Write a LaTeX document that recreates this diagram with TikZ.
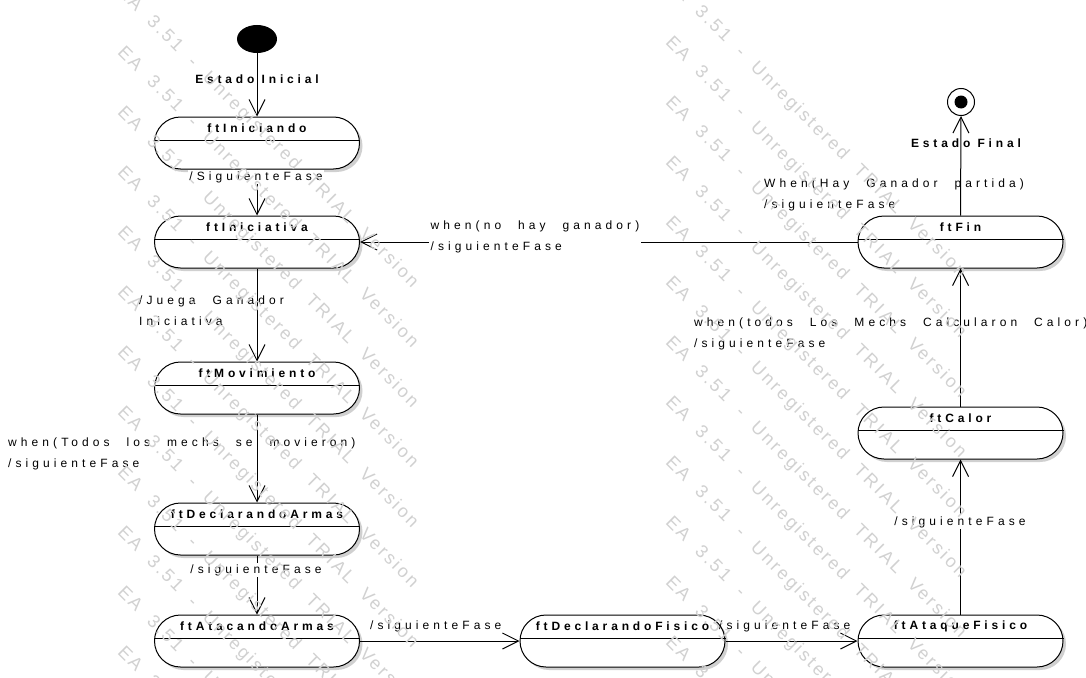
\documentclass[tikz,border=0pt]{standalone}
\usepackage{fontspec}
\setmainfont{Liberation Sans}[LetterSpace=34]
\newfontfamily\titlefont{Liberation Sans}[LetterSpace=32]
\newfontfamily\watermarkfont{Liberation Sans}[LetterSpace=14]
\usetikzlibrary{arrows.meta,shapes.geometric,shadows,calc}

\tikzset{
  phase/.style={draw, line width=1pt, fill=white, rounded corners=26pt,
    minimum width=205pt, minimum height=52pt, inner sep=0pt,
    drop shadow={shadow xshift=3pt, shadow yshift=-3pt, fill=black!30, opacity=.6}},
  phasetitle/.style={font=\titlefont\fontsize{12}{14}\selectfont\bfseries, inner sep=0pt},
  divider/.style={line width=1pt},
  conn/.style={line width=1pt, -{Straight Barb[length=16pt, width=16pt]}},
  lbl/.style={font={\fontsize{12}{21}\selectfont\spaceskip=17pt\relax}, inner sep=0pt, align=left},
  lblbg/.style={lbl, fill=white, inner sep=1.5pt},
  lblbold/.style={font=\titlefont\fontsize{12}{14}\selectfont\bfseries, inner sep=0pt},
  wm/.style={font={\watermarkfont\fontsize{18}{18}\selectfont\spaceskip=15pt\relax}, text=black!18,
    inner sep=0pt, anchor=west, rotate=-45},
}

% one phase of the turn: stadium box, title compartment and divider
\newcommand\phasebox[4]{%
  \node[phase] (#1) at (#2,#3) {};
  \draw[divider] ($(#1.west)+(0,-2.5)$) -- ($(#1.east)+(0,-2.5)$);
  \node[phasetitle] (#1-t) at ($(#1.center)+(0,-15)$) {#4};
}

\begin{document}
\begin{tikzpicture}[x=1pt, y=-1pt]
  \fill[white] (0,0) rectangle (1086,677);
  \useasboundingbox (0,0) rectangle (1086,677);

  % pseudo states
  \node[ellipse, fill=black, minimum width=40pt, minimum height=28pt, inner sep=0pt] (init) at (257,39) {};
  \node[circle, draw, line width=1pt, fill=white, minimum size=27pt, inner sep=0pt] (final) at (961,102) {};
  \node[circle, fill=black, minimum size=13pt, inner sep=0pt] (finaldot) at (final.center) {};

  % phases
  \phasebox{iniciando}{257}{143}{ftIniciando}
  \phasebox{iniciativa}{257}{242}{ftIniciativa}
  \phasebox{movimiento}{257}{388}{ftMovimiento}
  \phasebox{declarmas}{257}{529}{ftDeclarandoArmas}
  \phasebox{atacarmas}{257}{641}{ftAtacandoArmas}
  \phasebox{declfisico}{622.5}{641}{ftDeclarandoFisico}
  \phasebox{ataquefisico}{960.5}{641}{ftAtaqueFisico}
  \phasebox{calor}{960.5}{433}{ftCalor}
  \phasebox{fin}{960.5}{242}{ftFin}

  % transitions
  \draw[conn] (init.south) -- (iniciando.north);
  \draw[conn] (iniciando.south) -- (iniciativa.north);
  \draw[conn] (iniciativa.south) -- (movimiento.north);
  \draw[conn] (movimiento.south) -- (declarmas.north);
  \draw[conn] (declarmas.south) -- (atacarmas.north);
  \draw[conn] (atacarmas.east) -- (declfisico.west);
  \draw[conn] (declfisico.east) -- (ataquefisico.west);
  \draw[conn] (ataquefisico.north) -- (calor.south);
  \draw[conn] (calor.north) -- (fin.south);
  \draw[conn] (fin.west) -- (iniciativa.east);
  \draw[conn] (fin.north) -- (final.south);

  % transition labels
  \node[lblbold] (l-init) at (257,79) {Estado Inicial};
  \node[lblbg] (l-sig1) at (256,177) {/SiguienteFase};
  \node[lbl, anchor=west] (l-juega) at (139,310.5) {/Juega Ganador\\Iniciativa};
  \node[lbl, anchor=west] (l-mov) at (8,453.5) {when(Todos los mechs se movieron)\\/siguienteFase};
  \node[lblbg] (l-sig2) at (256,570) {/siguienteFase};
  \node[lbl, anchor=west] (l-sig3) at (370,626) {/siguienteFase};
  \node[lbl, anchor=west] (l-sig4) at (719,626) {/siguienteFase};
  \node[lblbg] (l-sig5) at (960,522) {/siguienteFase};
  \node[lbl, anchor=west] (l-calor) at (694,334) {when(todos Los Mechs Calcularon Calor)\\/siguienteFase};
  \node[lblbg, anchor=west] (l-nohay) at (429,237) {when(no hay ganador)\\/siguienteFase};
  \node[lbl, anchor=west] (l-hay) at (764,195) {When(Hay Ganador partida)\\/siguienteFase};
  \node[lblbold] (l-final) at (966,143) {Estado Final};

  % tool watermark
  \begin{scope}
    \clip (0,0) rectangle (1086,677);
    \foreach \k in {-1,...,10} {
      \node[wm] (wm-a-\k) at (120,50+60*\k) {EA 3.51 - Unregistered TRIAL Version};
      \node[wm] (wm-b-\k) at (668,40+60*\k) {EA 3.51 - Unregistered TRIAL Version};
    }
  \end{scope}
\end{tikzpicture}
\end{document}
